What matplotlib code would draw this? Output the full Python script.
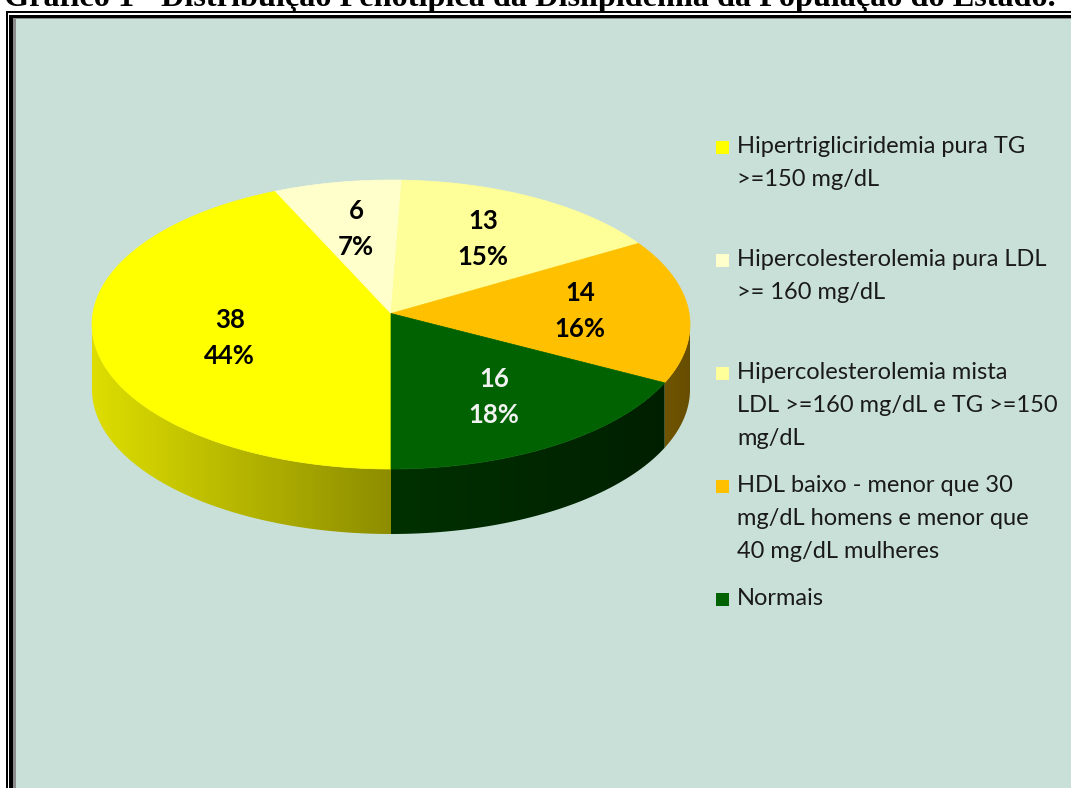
import numpy as np
import matplotlib.pyplot as plt
from matplotlib.colors import to_rgb
from matplotlib.patches import Polygon, Rectangle

# chart content
title = "Gráfico 1 - Distribuição Fenotípica da Dislipidemia da População do Estado."
categories = [
    "Hipertrigliciridemia pura TG\n>=150 mg/dL",
    "Hipercolesterolemia pura LDL\n>= 160 mg/dL",
    "Hipercolesterolemia mista\nLDL >=160 mg/dL e TG >=150\nmg/dL",
    "HDL baixo - menor que 30\nmg/dL homens e menor que\n40 mg/dL mulheres",
    "Normais",
]
counts = [38, 6, 13, 14, 16]
colors = ["#FFFF00", "#FFFFCC", "#FFFF99", "#FFC000", "#006200"]
label_colors = ["black", "black", "black", "black", "#F2F2F2"]
# side-wall shading (left, right) per slice, imitating Excel's 3D lighting
side_shade = [(0.87, 0.55), (0.8, 0.6), (0.8, 0.6), (0.44, 0.40), (0.50, 0.32)]

W, H = 1071, 788
BG = "#C9E0D8"

fig = plt.figure(figsize=(W / 100, H / 100), dpi=100)
fig.patch.set_facecolor("white")
ax = fig.add_axes([0, 0, 1, 1])
ax.axis("off")

# frame (double black line + grey inner line), chart area
ax.add_patch(Rectangle((16, 19), W, H, facecolor=BG, edgecolor="none", zorder=0))
ax.add_patch(Rectangle((6, 11), W, 2.2, facecolor="black", lw=0, zorder=1))
ax.add_patch(Rectangle((6, 11), 2.2, H, facecolor="black", lw=0, zorder=1))
ax.add_patch(Rectangle((9, 14.5), W, 3, facecolor="black", lw=0, zorder=1))
ax.add_patch(Rectangle((9, 14.5), 3.8, H, facecolor="black", lw=0, zorder=1))
ax.add_patch(Rectangle((12.8, 17.5), W, 1.6, facecolor="#8c8c8c", lw=0, zorder=1))
ax.add_patch(Rectangle((12.8, 17.5), 3.2, H, facecolor="#8c8c8c", lw=0, zorder=1))

ax.text(530, 5.5, title, ha="center", va="baseline", fontsize=23.2,
        fontweight="bold", family="Liberation Serif", color="black")

# 3D pie geometry
cx, cy = 391, 324.5
rx, ry = 299, 144.5
depth = 65
vx, vy = cx, cy - 11  # apex of slices (perspective shift)


def pt(theta_deg, dy=0.0):
    t = np.radians(theta_deg)
    return cx + rx * np.sin(t), cy - ry * np.cos(t) + dy


total = sum(counts)
fracs = np.array(counts) / total
edges = 180 + np.concatenate([[0], np.cumsum(fracs) * 360])

# side walls (front half only), filled with a horizontal gradient
for i in range(len(counts)):
    a0, a1 = edges[i], edges[i + 1]
    base = np.array(to_rgb(colors[i]))
    for k in (-1, 0, 1):
        lo, hi = max(a0, 90 + 360 * k), min(a1, 270 + 360 * k)
        if hi <= lo:
            continue
        th = np.linspace(lo, hi, 200)
        top = [pt(t) for t in th]
        bot = [pt(t, depth) for t in th[::-1]]
        wall = Polygon(top + bot, closed=True, facecolor="none", edgecolor="none")
        ax.add_patch(wall)
        xs = [p[0] for p in top]
        ys = [p[1] for p in top] + [p[1] for p in bot]
        fl, fr = side_shade[i]
        f = np.linspace(fl, fr, 256)
        grad = np.clip(f[None, :, None] * base[None, None, :], 0, 1)
        im = ax.imshow(grad, extent=(min(xs) - 1, max(xs) + 1, max(ys) + 1, min(ys) - 1),
                       aspect="auto", interpolation="bilinear", zorder=2)
        im.set_clip_path(wall)

# top surface
for i in range(len(counts)):
    th = np.linspace(edges[i], edges[i + 1], 200)
    arc = [pt(t) for t in th]
    ax.add_patch(Polygon([(vx, vy)] + arc, closed=True, facecolor=colors[i],
                         edgecolor=colors[i], lw=0.5, zorder=3))

# data labels, placed between a fixed radius and the sector centroid
for i in range(len(counts)):
    half = np.radians(0.5 * (edges[i + 1] - edges[i]))
    mid = np.radians(0.5 * (edges[i] + edges[i + 1]))
    centroid = 2 / 3 * np.sin(half) / half
    kr = 0.3 + 0.525 * centroid
    lx = vx + kr * rx * np.sin(mid)
    ly = vy - 0.64 * ry * np.cos(mid) + 6
    ax.text(lx, ly, f"{counts[i]}\n{round(100 * fracs[i])}%", ha="center", va="center",
            fontsize=18.5, fontweight="bold", family="Lato", color=label_colors[i],
            linespacing=1.6, zorder=4)

# legend
for i, lab in enumerate(categories):
    y = 147 + 113 * i
    ax.add_patch(Rectangle((716, y - 6.5), 13, 13, facecolor=colors[i], edgecolor="none", zorder=4))
    ax.text(737, y - 11, lab, ha="left", va="top", fontsize=17, family="Lato",
            color="#1a1a1a", linespacing=1.72, zorder=4)

ax.set_xlim(0, W)
ax.set_ylim(H, 0)
fig.savefig("out.png", dpi=100, facecolor="white")
